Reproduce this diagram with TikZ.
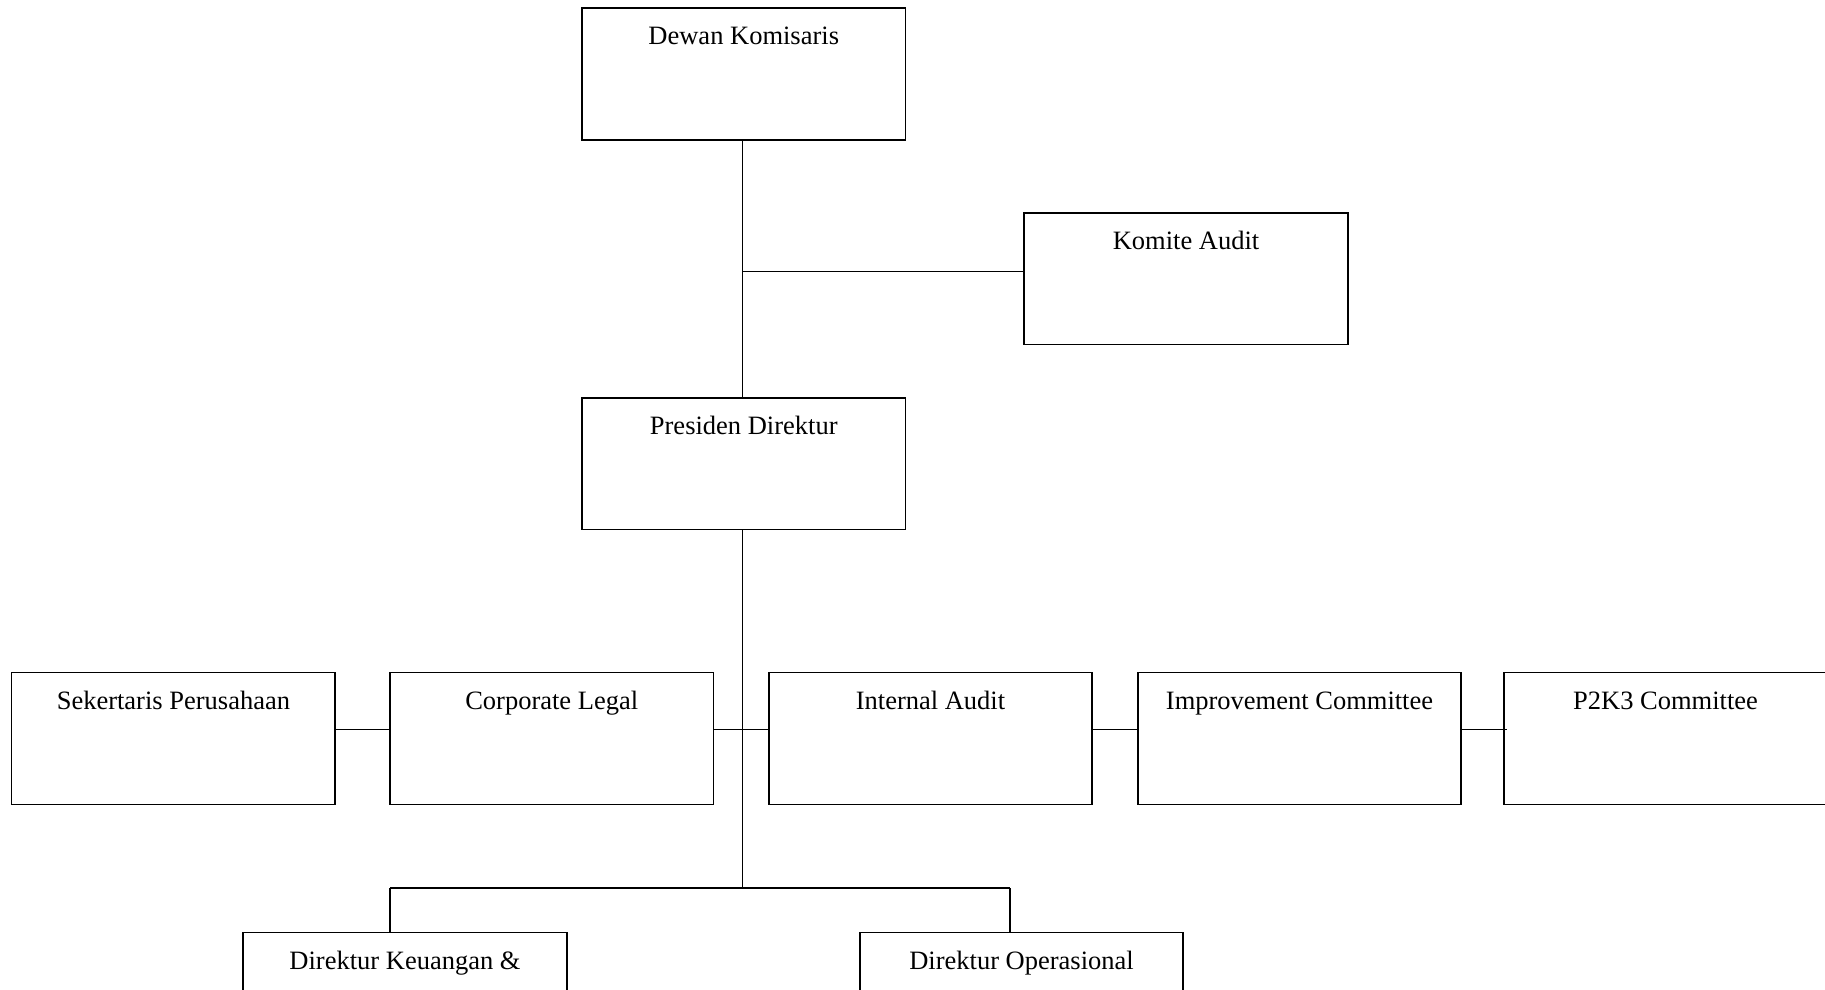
\documentclass[tikz,border=0pt]{standalone}
\usepackage{fontspec}
\setmainfont{Liberation Serif}
\begin{document}
\begin{tikzpicture}[x=1pt,y=-1pt,
  orgbox/.style={draw=black, line width=1.6pt, minimum width=323.5pt, minimum height=131.7pt, inner sep=0pt},
  lbl/.style={anchor=base, inner sep=0pt, font=\fontsize{26.5}{30}\selectfont},
  conn/.style={draw=black, line width=1.3pt}]
\useasboundingbox (0,0) rectangle (1825,990);
\clip (0,0) rectangle (1825,990);
\fill[white] (0,0) rectangle (1825,990);

% boxes
\node[orgbox] (dk) at (743.75,73.9) {};
\node[orgbox] (ka) at (1186,278.7) {};
\node[orgbox] (pd) at (743.75,463.8) {};
\node[orgbox] (sp) at (173.4,738.5) {};
\node[orgbox] (cl) at (551.7,738.5) {};
\node[orgbox] (ia) at (930.5,738.5) {};
\node[orgbox] (imp) at (1299.5,738.5) {};
\node[orgbox] (pk) at (1665.5,738.5) {};
\node[orgbox] (dku) at (405,998.5) {};
\node[orgbox] (dop) at (1021.5,998.5) {};

% labels
\node[lbl] (dk-t) at ([yshift=-37.5pt]dk.north) {Dewan Komisaris};
\node[lbl] (ka-t) at ([yshift=-37.5pt]ka.north) {Komite Audit};
\node[lbl] (pd-t) at ([yshift=-37.5pt]pd.north) {Presiden Direktur};
\node[lbl] (sp-t) at ([yshift=-37.5pt]sp.north) {Sekertaris Perusahaan};
\node[lbl] (cl-t) at ([yshift=-37.5pt]cl.north) {Corporate Legal};
\node[lbl] (ia-t) at ([yshift=-37.5pt]ia.north) {Internal Audit};
\node[lbl] (imp-t) at ([yshift=-37.5pt]imp.north) {Improvement Committee};
\node[lbl] (pk-t) at ([yshift=-37.5pt]pk.north) {P2K3 Committee};
\node[lbl] (dku-t) at ([yshift=-37.5pt]dku.north) {Direktur Keuangan \&};
\node[lbl] (dop-t) at ([yshift=-37.5pt]dop.north) {Direktur Operasional};

% connectors
\coordinate (t1) at (742.6,271.2);
\coordinate (t2) at (742.6,729.5);
\coordinate (t3) at (742.6,888);
\coordinate (b1) at (390,888);
\coordinate (b2) at (1010,888);
\coordinate (pk-in) at (1507,729.5);

\draw[conn] (dk.south -| t1) -- (pd.north -| t1);
\draw[conn] (t1) -- (t1 -| ka.west);
\draw[conn] (pd.south -| t3) -- (t3);
\draw[conn] (t2 -| cl.east) -- (t2 -| ia.west);
\draw[conn] (t2 -| sp.east) -- (t2 -| cl.west);
\draw[conn] (t2 -| ia.east) -- (t2 -| imp.west);
\draw[conn] (t2 -| imp.east) -- (pk-in);
\draw[conn] (b1) -- (b2);
\draw[conn] (b1) -- (b1 |- dku.north);
\draw[conn] (b2) -- (b2 |- dop.north);
\end{tikzpicture}
\end{document}
